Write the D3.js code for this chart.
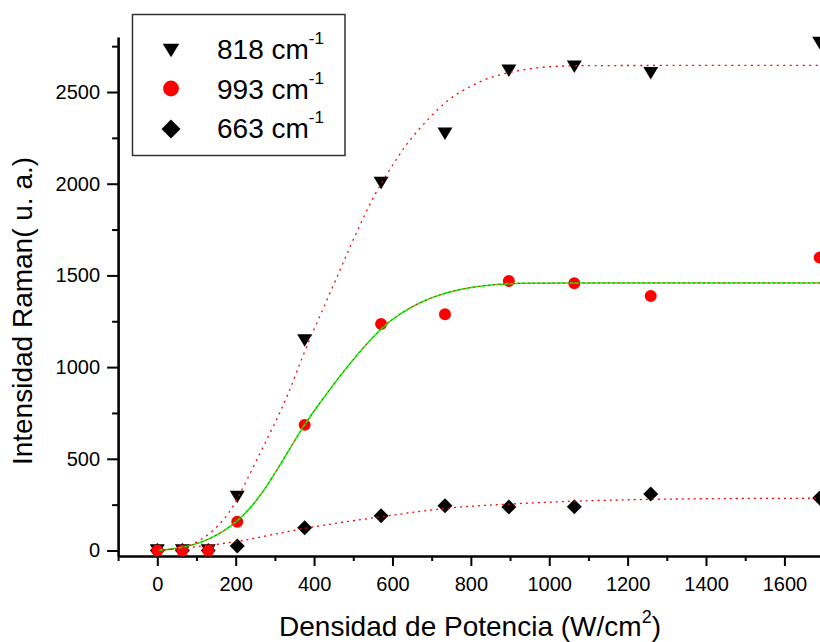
<!DOCTYPE html>
<html><head><meta charset="utf-8">
<script src="https://cdn.jsdelivr.net/npm/d3@7"></script>
<style>
body{margin:0;background:#fff}
svg{display:block;font-family:Arial,"Liberation Sans",sans-serif}
</style>
</head><body>
<svg id="c" width="820" height="642"></svg>
<script>
// ---- data ----
const densities = [0, 64, 130, 204, 376, 571, 734, 897, 1064, 1259, 1690];
const int818 = [0, 0, 0, 292, 1145, 2004, 2272, 2616, 2638, 2602, 2767];
const int993 = [0, 0, 0, 157, 685, 1235, 1288, 1470, 1457, 1388, 1597];
const int663 = [0, 0, 0, 25, 124, 190, 244, 237, 239, 308, 286];

// fitted curves
const fit818 = [[0,0],[70,8],[127,74],[178,183],[206,286],[237,422],[290,650],[334,845],[377,1100],[441,1402],[491,1655],[543,1895],[571,2002],[603,2110],[637,2222],[688,2347],[739,2457],[790,2522],[841,2576],[900,2609],[959,2631],[1019,2642],[1100,2645],[1700,2645]];
const fit993 = [[0,0],[65,13],[134,57],[206,155],[263,292],[321,493],[377,695],[425,835],[491,1023],[575,1225],[619,1290],[670,1355],[739,1410],[805,1437],[866,1452],[925,1458],[1000,1459],[1700,1459]];
const fit663 = [[0,0],[65,12],[130,28],[206,48],[290,85],[377,122],[473,155],[573,184],[650,208],[734,231],[815,244],[895,253],[1000,264],[1147,275],[1316,281],[1486,284],[1700,285]];

const xMajor = [0, 200, 400, 600, 800, 1000, 1200, 1400, 1600];
const xMinor = [-100, 100, 300, 500, 700, 900, 1100, 1300, 1500, 1700];
const yMajor = [0, 500, 1000, 1500, 2000, 2500];
const yMinor = [250, 750, 1250, 1750, 2250, 2750];
const seriesLabels = ["818 cm", "993 cm", "663 cm"];
const seriesSup = "-1";
const xTitle = "Densidad de Potencia (W/cm";
const xTitleSup = "2";
const yTitle = "Intensidad Raman( u. a.)";

// ---- drawing ----
const svg = d3.select("#c");
const x = d3.scaleLinear().domain([-100, 1700]).range([118.1, 823.6]);
const y = d3.scaleLinear().domain([-30, 2800]).range([556, 37]);

function triDown(w, h) {
  return `M${-w/2},${-h/2}L${w/2},${-h/2}L0,${h/2}Z`;
}
const symTri = triDown(15, 12.5);
const symTriL = triDown(16.5, 13.5);
const symCircle = d3.symbol(d3.symbolCircle, 113)();
const symCircleL = d3.symbol(d3.symbolCircle, 195)();
const symDiam = d3.symbol(d3.symbolSquare, 112)();
const symDiamL = d3.symbol(d3.symbolSquare, 180)();

// axes
const axB = svg.append("g").attr("transform", `translate(0,${y.range()[0]})`)
  .call(d3.axisBottom(x).tickValues(xMajor).tickSize(10).tickSizeOuter(0).tickPadding(11).tickFormat(d3.format("d")));
const axBm = svg.append("g").attr("transform", `translate(0,${y.range()[0]})`)
  .call(d3.axisBottom(x).tickValues(xMinor).tickSize(5).tickSizeOuter(0).tickFormat(""));
const axL = svg.append("g").attr("transform", `translate(${x.range()[0]},0)`)
  .call(d3.axisLeft(y).tickValues(yMajor).tickSize(11).tickSizeOuter(0).tickPadding(7).tickFormat(d3.format("d")));
const axLm = svg.append("g").attr("transform", `translate(${x.range()[0]},0)`)
  .call(d3.axisLeft(y).tickValues(yMinor).tickSize(6).tickSizeOuter(0).tickFormat(""));
[axBm, axLm].forEach(g => g.select(".domain").remove());
[axB, axL].forEach(g => g.select(".domain").attr("stroke", "#000").attr("stroke-width", 2.6));
svg.selectAll(".tick line").attr("stroke", "#000").attr("stroke-width", 2);
svg.selectAll(".tick text").attr("fill", "#000").style("font-size", "20px").style("font-family", "Arial, 'Liberation Sans', sans-serif");

// markers
const pts = (vals) => densities.map((d, i) => [d, vals[i]]);
const gM = svg.append("g");
gM.selectAll(".m818").data(pts(int818)).join("path")
  .attr("class", "m818")
  .attr("d", symTri).attr("fill", "#000")
  .attr("transform", d => `translate(${x(d[0])},${y(d[1])})`);
gM.selectAll(".m663").data(pts(int663)).join("path")
  .attr("class", "m663")
  .attr("d", symDiam).attr("fill", "#000")
  .attr("transform", d => `translate(${x(d[0])},${y(d[1])}) rotate(45)`);
gM.selectAll(".m993").data(pts(int993)).join("path")
  .attr("class", "m993")
  .attr("d", symCircle).attr("fill", "#ff0000")
  .attr("transform", d => `translate(${x(d[0])},${y(d[1])})`);

// fit curves
const line = d3.line().x(d => x(d[0])).y(d => y(d[1])).curve(d3.curveBasis);
svg.append("path").datum(fit993).attr("d", line)
  .attr("fill", "none").attr("stroke", "#00ff00").attr("stroke-width", 1.6);
svg.append("path").datum(fit993).attr("d", line)
  .attr("fill", "none").attr("stroke", "#ff0000").attr("stroke-width", 0.9).attr("stroke-dasharray", "2,3");
svg.append("path").datum(fit818).attr("d", line)
  .attr("fill", "none").attr("stroke", "#ff0000").attr("stroke-width", 1.3).attr("stroke-dasharray", "2,4.5");
svg.append("path").datum(fit663).attr("d", line)
  .attr("fill", "none").attr("stroke", "#ff0000").attr("stroke-width", 1.3).attr("stroke-dasharray", "2,4");

// legend
const lg = svg.append("g");
lg.append("rect").attr("x", 132.5).attr("y", 14.5).attr("width", 212.5).attr("height", 141)
  .attr("fill", "#fff").attr("stroke", "#333").attr("stroke-width", 1.5);
const legSyms = [
  {d: symTriL, fill: "#000", rot: 0, cy: 50.5},
  {d: symCircleL, fill: "#ff0000", rot: 0, cy: 88.5},
  {d: symDiamL, fill: "#000", rot: 45, cy: 129}
];
const rowBase = [59, 98.5, 137.5];
legSyms.forEach((s, i) => {
  lg.append("path").attr("d", s.d).attr("fill", s.fill)
    .attr("transform", `translate(171,${s.cy}) rotate(${s.rot})`);
  const t = lg.append("text").attr("x", 217).attr("y", rowBase[i])
    .style("font-size", "28px").attr("fill", "#000");
  t.append("tspan").text(seriesLabels[i]);
  t.append("tspan").attr("dy", -15).style("font-size", "17px").text(seriesSup);
});

// axis titles
const xt = svg.append("text").attr("x", 470).attr("y", 636).attr("text-anchor", "middle")
  .style("font-size", "28px").attr("fill", "#000");
xt.append("tspan").text(xTitle);
xt.append("tspan").attr("dy", -13).style("font-size", "18px").text(xTitleSup);
xt.append("tspan").attr("dy", 13).text(")");

svg.append("text").attr("transform", "translate(32,311) rotate(-90)")
  .attr("text-anchor", "middle").style("font-size", "28px").attr("fill", "#000")
  .text(yTitle);
</script>
</body></html>
